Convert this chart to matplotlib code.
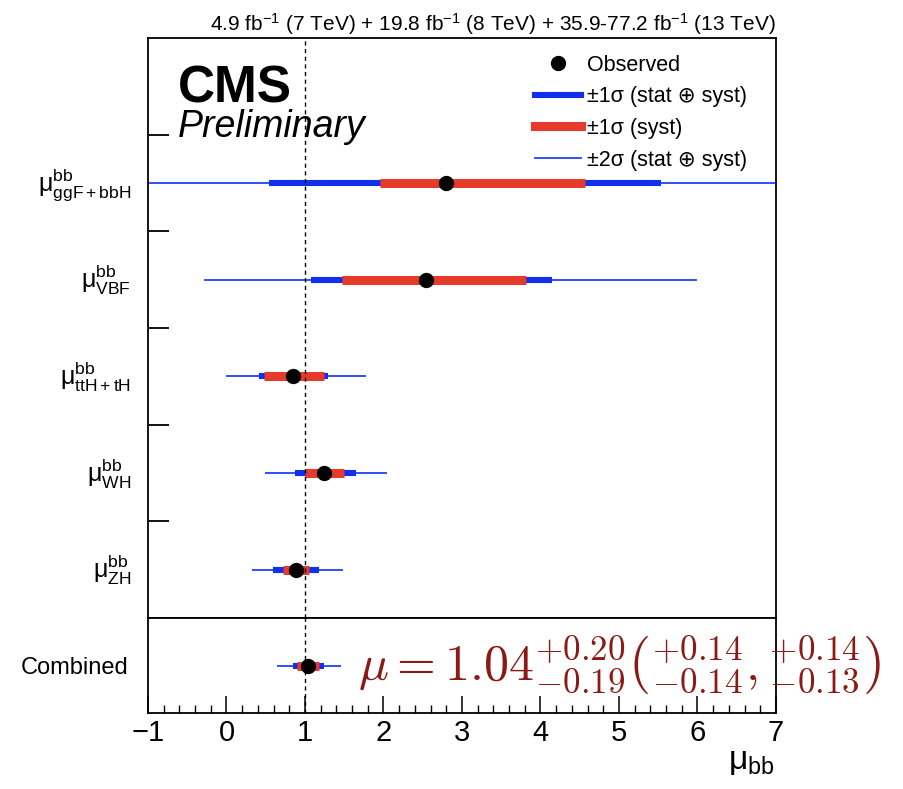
import numpy as np
import matplotlib.pyplot as plt
from matplotlib.lines import Line2D

plt.rcParams['font.family'] = ['Liberation Sans', 'DejaVu Sans']
plt.rcParams['mathtext.fontset'] = 'custom'
plt.rcParams['mathtext.rm'] = 'Liberation Sans'
plt.rcParams['mathtext.it'] = 'Liberation Sans:italic'
plt.rcParams['mathtext.bf'] = 'Liberation Sans:bold'

# 各通道的信号强度
labels = [r'μ$^{\mathrm{bb}}_{\mathrm{ZH}}$', r'μ$^{\mathrm{bb}}_{\mathrm{WH}}$',
          r'μ$^{\mathrm{bb}}_{\mathrm{ttH+tH}}$', r'μ$^{\mathrm{bb}}_{\mathrm{VBF}}$',
          r'μ$^{\mathrm{bb}}_{\mathrm{ggF+bbH}}$']
mu = [0.88, 1.24, 0.85, 2.54, 2.80]
tot_lo = [0.59, 0.87, 0.41, 1.08, 0.54]
tot_hi = [1.18, 1.65, 1.29, 4.15, 5.53]
syst_lo = [0.72, 1.00, 0.48, 1.47, 1.96]
syst_hi = [1.05, 1.50, 1.24, 3.81, 4.57]
two_lo = [0.33, 0.49, -0.01, -0.29, -1.5]
two_hi = [1.48, 2.04, 1.78, 5.99, 7.5]

# 合并结果
comb_mu = 1.04
comb_tot = (0.85, 1.24)
comb_syst = (0.90, 1.18)
comb_two = (0.64, 1.46)

blue = '#1030ee'
red = '#e63a2a'
thin = '#2040ff'
lw_thin, lw_blue, lw_red = 1.3, 4.4, 6.5

fig = plt.figure(figsize=(9.04, 7.89), dpi=100)
ax = fig.add_axes([0.1637, 0.2167, 0.6947, 0.7351])
ax2 = fig.add_axes([0.1637, 0.0963, 0.6947, 0.1204])

y = np.arange(len(mu)) + 0.5
ax.hlines(y, two_lo, two_hi, color=thin, lw=lw_thin)
ax.hlines(y, tot_lo, tot_hi, color=blue, lw=lw_blue, capstyle='butt')
ax.hlines(y, syst_lo, syst_hi, color=red, lw=lw_red, capstyle='butt')
ax.plot(mu, y, 'o', color='black', ms=10, zorder=5)
ax.axvline(1, color='black', ls='--', lw=1, dashes=(3, 2.5))

ax.set_xlim(-1, 7)
ax.set_ylim(0, 6)
ax.set_yticks([1, 2, 3, 4, 5])
ax.set_yticklabels([])
ax.set_yticks(y + 0.04, minor=True)
ax.set_yticklabels(labels, minor=True, fontsize=18)
ax.tick_params(axis='y', which='major', direction='in', length=15, width=1.3)
ax.tick_params(axis='y', which='minor', length=0, pad=12)
ax.set_xticks([])
for s in ax.spines.values():
    s.set_linewidth(1.3)

ax.text(0.048, 0.889, 'CMS', transform=ax.transAxes, fontsize=37, fontweight='bold', va='baseline')
ax.text(0.048, 0.830, 'Preliminary', transform=ax.transAxes, fontsize=27, style='italic', va='baseline')

handles = [
    Line2D([], [], marker='o', color='black', ls='none', ms=10),
    Line2D([], [], color=blue, lw=lw_blue),
    Line2D([], [], color=red, lw=lw_red),
    Line2D([], [], color=thin, lw=lw_thin),
]
names = ['Observed', '±1σ (stat ⊕ syst)', '±1σ (syst)', '±2σ (stat ⊕ syst)']
ax.legend(handles, names, loc='upper right', bbox_to_anchor=(0.985, 1.005), frameon=False,
          fontsize=15.5, handlelength=2.1, handletextpad=0.3, labelspacing=0.5)

ax.set_title('4.9 fb$^{-1}$ (7 TeV) + 19.8 fb$^{-1}$ (8 TeV) + 35.9-77.2 fb$^{-1}$ (13 TeV)',
             loc='right', fontsize=15, pad=5)

# 下方面板
ax2.hlines(0.5, *comb_two, color=thin, lw=lw_thin)
ax2.hlines(0.5, *comb_tot, color=blue, lw=lw_blue, capstyle='butt')
ax2.hlines(0.5, *comb_syst, color=red, lw=lw_red, capstyle='butt')
ax2.plot([comb_mu], [0.5], 'o', color='black', ms=10, zorder=5)
ax2.axvline(1, color='black', ls='--', lw=1, dashes=(3, 2.5))
ax2.set_xlim(-1, 7)
ax2.set_ylim(0, 1)
ax2.set_yticks([0.5])
ax2.set_yticklabels(['Combined'], fontsize=17)
ax2.tick_params(axis='y', length=0, pad=14)
ax2.set_xticks(np.arange(-1, 8, 1))
ax2.set_xticks(np.arange(-1, 7.01, 0.2), minor=True)
ax2.set_xticklabels(['\u22121' if v < 0 else str(v) for v in range(-1, 8)])
ax2.tick_params(axis='x', which='major', direction='in', length=12, width=1.1, labelsize=21, pad=4)
ax2.tick_params(axis='x', which='minor', direction='in', length=6, width=1.0)
for s in ax2.spines.values():
    s.set_linewidth(1.3)

ax2.text(1.67, 0.5, r'$\mu = 1.04^{+0.20}_{-0.19}\left({}^{+0.14}_{-0.14},{}^{+0.14}_{-0.13}\right)$',
         color='#8c1a14', fontsize=36, va='center', ha='left', math_fontfamily='cm', clip_on=False)

fig.text(0.805, 0.035, r'μ$_{\mathrm{bb}}$', fontsize=24, ha='left', va='center')

fig.savefig('out.png', dpi=100)
